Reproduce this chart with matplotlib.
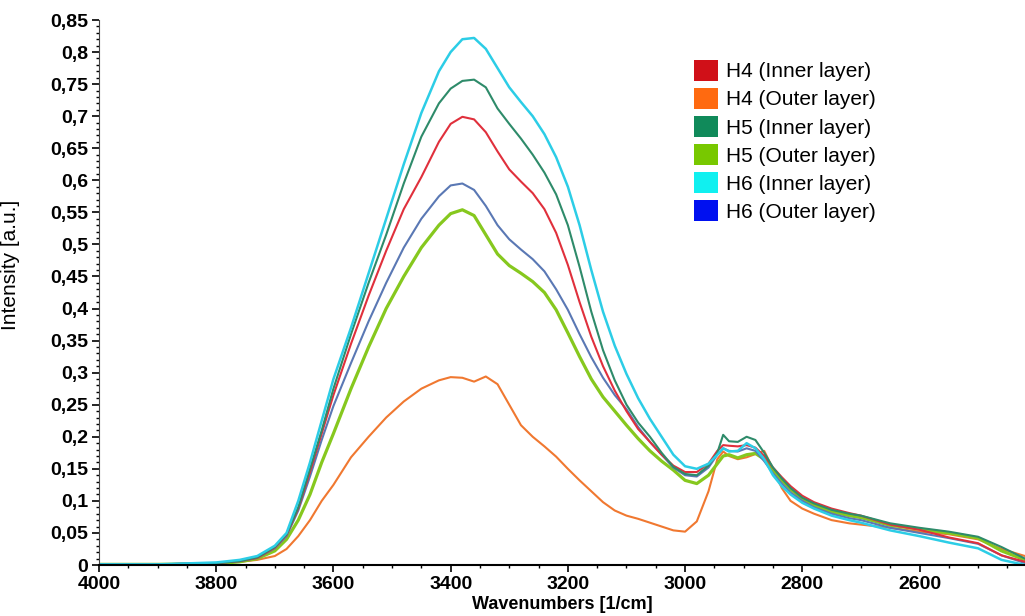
import matplotlib
matplotlib.use('Agg')
import matplotlib.pyplot as plt
from matplotlib.patches import Patch
from matplotlib.ticker import MultipleLocator, FuncFormatter

plt.rcParams['font.family'] = ['Liberation Sans', 'DejaVu Sans']

#*-*-*-*-*-*-*-*-*-*-*- DATA *-*-*-*-*-*-*-*-*-*-*-
wavenumbers = [4000, 3900, 3800, 3760, 3730, 3700, 3680, 3660, 3640, 3620,
               3600, 3570, 3540, 3510, 3480, 3450, 3420, 3400, 3380, 3360,
               3340, 3320, 3300, 3280, 3260, 3240, 3220, 3200, 3180, 3160,
               3140, 3120, 3100, 3080, 3060, 3040, 3020, 3000, 2980, 2960,
               2945, 2935, 2925, 2910, 2895, 2880, 2865, 2850, 2835, 2820,
               2800, 2780, 2750, 2720, 2700, 2650, 2600, 2550, 2500, 2460, 2420]

h4_inner = [0.001, 0.001, 0.003, 0.006, 0.011, 0.027, 0.047, 0.088, 0.145, 0.205,
            0.265, 0.345, 0.420, 0.490, 0.555, 0.605, 0.660, 0.688, 0.699, 0.695,
            0.675, 0.645, 0.617, 0.598, 0.580, 0.555, 0.518, 0.468, 0.410, 0.356,
            0.310, 0.272, 0.240, 0.212, 0.192, 0.172, 0.155, 0.145, 0.145, 0.158,
            0.178, 0.187, 0.186, 0.185, 0.187, 0.183, 0.170, 0.152, 0.137, 0.123,
            0.108, 0.098, 0.088, 0.081, 0.077, 0.063, 0.055, 0.043, 0.034, 0.015, 0.005]

h4_outer = [0.000, 0.000, 0.003, 0.005, 0.008, 0.014, 0.025, 0.045, 0.070, 0.100,
            0.125, 0.168, 0.200, 0.230, 0.255, 0.275, 0.288, 0.293, 0.292, 0.286,
            0.294, 0.282, 0.250, 0.218, 0.200, 0.185, 0.169, 0.150, 0.132, 0.115,
            0.098, 0.085, 0.077, 0.072, 0.066, 0.060, 0.054, 0.052, 0.068, 0.115,
            0.165, 0.177, 0.170, 0.165, 0.168, 0.173, 0.178, 0.150, 0.120, 0.100,
            0.088, 0.080, 0.070, 0.065, 0.063, 0.058, 0.052, 0.048, 0.040, 0.025, 0.014]

h5_inner = [0.001, 0.001, 0.003, 0.006, 0.012, 0.028, 0.048, 0.090, 0.150, 0.210,
            0.275, 0.360, 0.440, 0.515, 0.595, 0.668, 0.720, 0.743, 0.755, 0.757,
            0.745, 0.712, 0.688, 0.665, 0.640, 0.612, 0.578, 0.530, 0.465, 0.395,
            0.335, 0.288, 0.250, 0.222, 0.200, 0.175, 0.153, 0.142, 0.140, 0.155,
            0.175, 0.203, 0.193, 0.192, 0.200, 0.195, 0.175, 0.152, 0.135, 0.120,
            0.105, 0.096, 0.086, 0.080, 0.077, 0.065, 0.058, 0.052, 0.044, 0.028, 0.010]

h5_outer = [0.001, 0.001, 0.002, 0.005, 0.010, 0.022, 0.040, 0.070, 0.110, 0.160,
            0.205, 0.275, 0.340, 0.400, 0.450, 0.495, 0.530, 0.548, 0.554, 0.545,
            0.515, 0.485, 0.467, 0.455, 0.442, 0.425, 0.398, 0.362, 0.325, 0.290,
            0.262, 0.240, 0.218, 0.197, 0.178, 0.162, 0.148, 0.132, 0.127, 0.140,
            0.158, 0.170, 0.172, 0.167, 0.172, 0.174, 0.165, 0.148, 0.132, 0.118,
            0.103, 0.093, 0.083, 0.077, 0.074, 0.062, 0.056, 0.050, 0.042, 0.022, 0.008]

h6_inner = [0.001, 0.001, 0.004, 0.008, 0.014, 0.030, 0.050, 0.100, 0.160, 0.225,
            0.290, 0.370, 0.455, 0.540, 0.625, 0.705, 0.770, 0.800, 0.820, 0.822,
            0.805, 0.775, 0.745, 0.722, 0.700, 0.672, 0.636, 0.590, 0.530, 0.460,
            0.395, 0.342, 0.298, 0.260, 0.228, 0.200, 0.172, 0.154, 0.150, 0.158,
            0.172, 0.182, 0.177, 0.178, 0.190, 0.182, 0.165, 0.140, 0.123, 0.110,
            0.097, 0.088, 0.077, 0.070, 0.066, 0.054, 0.045, 0.035, 0.026, 0.008, 0.000]

h6_outer = [0.001, 0.001, 0.003, 0.006, 0.011, 0.026, 0.045, 0.085, 0.138, 0.195,
            0.248, 0.315, 0.380, 0.440, 0.495, 0.540, 0.575, 0.592, 0.595, 0.585,
            0.560, 0.530, 0.508, 0.492, 0.477, 0.458, 0.430, 0.398, 0.360, 0.324,
            0.292, 0.265, 0.243, 0.215, 0.192, 0.172, 0.152, 0.140, 0.138, 0.152,
            0.172, 0.182, 0.178, 0.177, 0.182, 0.178, 0.162, 0.143, 0.127, 0.113,
            0.100, 0.090, 0.080, 0.073, 0.070, 0.058, 0.050, 0.042, 0.033, 0.015, 0.003]

labels = ['H4 (Inner layer)', 'H4 (Outer layer)', 'H5 (Inner layer)',
          'H5 (Outer layer)', 'H6 (Inner layer)', 'H6 (Outer layer)']

#*-*-*-*-*-*-*-*-*-*-*- STYLE *-*-*-*-*-*-*-*-*-*-*-
line_colors = ['#e0303c', '#f07830', '#2e8b6a', '#86c81e', '#2ccde6', '#5a78b4']
line_widths = [1.5, 1.5, 1.5, 2.3, 1.8, 1.5]
legend_colors = ['#d01018', '#ff6a10', '#108a5a', '#78c800', '#10f0f0', '#0010f0']

#*-*-*-*-*-*-*-*-*-*-*- PLOT *-*-*-*-*-*-*-*-*-*-*-
fig = plt.figure(figsize=(10.25, 6.16), dpi=100)
ax = fig.add_axes([99/1025, 51/616, 926/1025, 545/616])

series = [h4_inner, h4_outer, h5_inner, h5_outer, h6_inner, h6_outer]
# draw order: outer ones first so the thin lines stay visible
for i in [1, 3, 5, 0, 2, 4]:
    ax.plot(wavenumbers, series[i], color=line_colors[i], lw=line_widths[i])

ax.set_xlim(4000, 2420)
ax.set_ylim(0, 0.85)

ax.xaxis.set_major_locator(MultipleLocator(200))
ax.xaxis.set_minor_locator(MultipleLocator(50))
ax.yaxis.set_major_locator(MultipleLocator(0.05))
ax.yaxis.set_minor_locator(MultipleLocator(0.01))
ax.yaxis.set_major_formatter(FuncFormatter(lambda v, p: ('%g' % round(v, 2)).replace('.', ',')))
ax.xaxis.set_major_formatter(FuncFormatter(lambda v, p: '%d' % v))

ax.tick_params(which='major', length=5, width=1.2, labelsize=14, pad=3)
ax.tick_params(which='minor', length=2.5, width=1.0)
for lab in ax.get_xticklabels() + ax.get_yticklabels():
    lab.set_fontweight('bold')

for s in ['top', 'right']:
    ax.spines[s].set_visible(False)
ax.spines['left'].set_color('#444444')
ax.spines['bottom'].set_linewidth(1.5)

ax.set_xlabel('Wavenumbers [1/cm]', fontsize=13, fontweight='bold', labelpad=2)
ax.set_ylabel('Intensity [a.u.]', fontsize=15)
ax.yaxis.set_label_coords(-0.085, 0.55)

handles = [Patch(facecolor=c, edgecolor='none') for c in legend_colors]
fig.legend(handles, labels, loc='upper left', bbox_to_anchor=(694/1025, 1 - 60/616),
           frameon=False, fontsize=15, handlelength=1.15, handleheight=1.15,
           handletextpad=0.4, labelspacing=0.32, borderpad=0, borderaxespad=0)

plt.savefig('out.png', dpi=100)
plt.close('all')
